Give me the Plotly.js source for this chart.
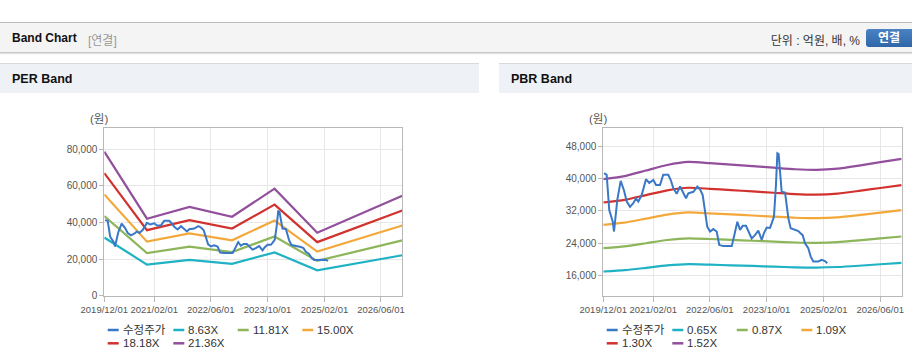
<!DOCTYPE html>
<html>
<head>
<meta charset="utf-8">
<script src="https://cdn.plot.ly/plotly-3.0.1.min.js"></script>
<style>
  html, body { margin:0; padding:0; }
  body { width:912px; height:364px; overflow:hidden; background:#fff; position:relative;
         font-family:"Liberation Sans", Arial, "Noto Sans CJK KR", sans-serif; }
  #topbar { position:absolute; left:0; top:22px; width:912px; height:29px; background:#f4f4f4;
            border-top:1px solid #bdbdbd; border-bottom:1px solid #c9c9c9; box-shadow:0 1px 1px #e2e2e2; }
  #topbar .ttl { position:absolute; left:12px; top:8px; font-size:12px; font-weight:bold; color:#111; }
  #topbar .sub { position:absolute; left:88px; top:8px; font-size:12px; color:#999; }
  #topbar .unit { position:absolute; right:52px; top:8px; font-size:12px; color:#333; }
  #topbar .btn { position:absolute; left:866px; top:6px; width:52px; height:18px; border-radius:3px;
                 background:linear-gradient(#4a82c4,#2f66a8); color:#fff; font-size:12px; font-weight:bold;
                 line-height:18px; text-indent:12px; }
  .phead { position:absolute; top:63px; height:29px; background:#eef1f6; border-top:1px solid #d9d9d9; }
  .phead span { position:absolute; left:12px; top:8px; font-size:12.5px; font-weight:bold; color:#111; }
  #chart { position:absolute; left:0; top:0; width:912px; height:364px; }
</style>
</head>
<body>
<div id="topbar">
  <div class="ttl">Band Chart</div>
  <div class="sub">[연결]</div>
  <div class="unit">단위 : 억원, 배, %</div>
  <div class="btn">연결</div>
</div>
<div class="phead" style="left:0;width:479px;"><span>PER Band</span></div>
<div class="phead" style="left:499px;width:413px;"><span>PBR Band</span></div>
<div id="chart"></div>
<script>
// ---------------- data ----------------
const priceName = '수정주가';
const priceDates = ['2019-12-07','2019-12-30','2020-01-21','2020-02-20','2020-03-02','2020-03-10','2020-03-30','2020-04-28','2020-05-26','2020-06-19','2020-07-17','2020-08-14','2020-09-06','2020-09-26','2020-10-25','2020-12-01','2020-12-29','2021-02-02','2021-02-25','2021-03-31','2021-04-28','2021-06-10','2021-07-01','2021-07-23','2021-08-21','2021-09-19','2021-10-12','2021-11-09','2021-11-29','2022-01-11','2022-02-14','2022-03-09','2022-04-01','2022-04-21','2022-05-10','2022-06-03','2022-07-01','2022-07-30','2022-08-21','2022-09-25','2022-12-06','2022-12-25','2023-01-23','2023-02-15','2023-03-10','2023-04-07','2023-05-26','2023-06-23','2023-07-22','2023-08-20','2023-09-08','2023-10-02','2023-10-30','2023-11-13','2023-12-03','2023-12-20','2024-01-01','2024-01-12','2024-01-24','2024-02-07','2024-03-07','2024-03-21','2024-04-04','2024-04-24','2024-05-31','2024-06-29','2024-07-13','2024-08-05','2024-08-25','2024-09-22','2024-10-13','2024-11-04','2024-12-17','2025-01-15','2025-02-12','2025-03-04'];
const priceValues = [41300,40900,32200,29300,26900,29700,34700,39400,37100,34300,33000,33900,35100,34300,35900,39800,38900,39600,38400,38400,40900,40900,39600,37600,36200,38000,36700,35100,36300,36700,38000,37300,35900,32200,28100,26900,27500,26900,23600,23300,23300,25600,29300,27300,28300,28300,25200,26000,27100,24800,26500,27900,27800,28900,30600,38400,46200,46000,40400,36700,36500,33000,30200,27700,27200,27000,26600,26000,24000,22800,20700,19500,19500,19900,19600,19050];

const perNames = ['8.63X','11.81X','15.00X','18.18X','21.36X'];
const perDates = ['2019-12-01','2020-12-01','2021-12-01','2022-12-01','2023-12-01','2024-12-01','2026-12-01'];
const per863  = [31800,17000,19590,17430,23650,13890,22090];
const per1181 = [43520,23270,26810,23860,32360,19010,30230];
const per1500 = [55280,29550,34050,30300,41100,24150,38400];
const per1818 = [66990,35810,41270,36720,49810,29270,46540];
const per2136 = [78710,42080,48490,43150,58530,34390,54680];

const pbrNames = ['0.65X','0.87X','1.09X','1.30X','1.52X'];
const pbrDates = ['2019-12-01','2020-06-01','2020-12-01','2021-06-01','2021-12-01','2022-06-01','2022-12-01','2023-06-01','2023-12-01','2024-06-01','2024-12-01','2025-06-01','2025-12-01','2026-06-01','2026-12-01'];
const pbr065 = [17030,17360,17940,18530,18850,18720,18560,18400,18230,18070,18010,18140,18460,18820,19180];
const pbr087 = [22790,23230,24010,24800,25230,25060,24840,24620,24400,24190,24100,24270,24710,25190,25670];
const pbr109 = [28560,29100,30080,31070,31610,31390,31120,30850,30570,30300,30190,30410,30960,31560,32160];
const pbr130 = [34060,34710,35880,37050,37700,37440,37120,36790,36470,36140,36010,36270,36920,37640,38350];
const pbr152 = [39820,40580,41950,43320,44080,43780,43400,43020,42640,42260,42100,42410,43170,44000,44840];

const xTickVals = ['2019-12-01','2021-02-01','2022-06-01','2023-10-01','2025-02-01','2026-06-01'];
const xTickText = ['2019/12/01','2021/02/01','2022/06/01','2023/10/01','2025/02/01','2026/06/01'];

// ---------------- styles ----------------
const priceColor = '#3a78c7';
const bandColors = ['#1fb2c5','#8db55a','#f3a83b','#d2322e','#924f9b'];
const FONT = '"Liberation Sans", Arial, "Noto Sans CJK KR", sans-serif';
const W = 912, H = 364;
const px = x => x / W, py = y => (H - y) / H;

const perBands = [per863, per1181, per1500, per1818, per2136];
const pbrBands = [pbr065, pbr087, pbr109, pbr130, pbr152];

const traces = [];
perBands.forEach((vals, i) => traces.push({
  type:'scatter', mode:'lines', x:perDates, y:vals, name:perNames[i],
  line:{color:bandColors[i], width:2.2}, xaxis:'x', yaxis:'y', showlegend:false, hoverinfo:'skip'
}));
traces.push({type:'scatter', mode:'lines', x:priceDates, y:priceValues, name:priceName,
  line:{color:priceColor, width:2}, xaxis:'x', yaxis:'y', showlegend:false, hoverinfo:'skip'});
pbrBands.forEach((vals, i) => traces.push({
  type:'scatter', mode:'lines', x:pbrDates, y:vals, name:pbrNames[i],
  line:{color:bandColors[i], width:2.2, shape:'spline', smoothing:0.6}, xaxis:'x2', yaxis:'y2', showlegend:false, hoverinfo:'skip'
}));
traces.push({type:'scatter', mode:'lines', x:priceDates, y:priceValues, name:priceName,
  line:{color:priceColor, width:2}, xaxis:'x2', yaxis:'y2', showlegend:false, hoverinfo:'skip'});

function xAxis(domain, anchor) {
  return {type:'date', domain:domain, anchor:anchor, range:['2019-12-01','2026-12-01'],
    tickmode:'array', tickvals:xTickVals, ticktext:xTickText, tickangle:0,
    showgrid:true, gridcolor:'#e7e7e7', gridwidth:1, zeroline:false,
    showline:true, linecolor:'#b8b8b8', linewidth:1, mirror:true,
    ticks:'outside', ticklen:5, tickcolor:'#b8b8b8',
    tickfont:{family:FONT, size:9.5, color:'#555'}, fixedrange:true, automargin:false};
}
function yAxis(domain, anchor, range, dtick) {
  return {domain:domain, anchor:anchor, range:range, tick0:0, dtick:dtick, tickformat:',d',
    showgrid:true, gridcolor:'#e7e7e7', gridwidth:1, zeroline:false,
    showline:true, linecolor:'#b8b8b8', linewidth:1, mirror:true,
    ticks:'outside', ticklen:4, tickcolor:'#b8b8b8',
    tickfont:{family:FONT, size:10, color:'#555'}, fixedrange:true, automargin:false};
}

const yDom = [py(295.7), py(128.3)];
const layout = {
  width:W, height:H, margin:{l:0,r:0,t:0,b:0},
  paper_bgcolor:'rgba(0,0,0,0)', plot_bgcolor:'#fff', showlegend:false,
  xaxis: xAxis([px(104.3), px(402.3)], 'y'),
  yaxis: yAxis(yDom, 'x', [0, 91500], 20000),
  xaxis2: xAxis([px(603.3), px(901.6)], 'y2'),
  yaxis2: yAxis(yDom, 'x2', [11065, 52367], 8000),
  annotations: [], shapes: []
};

// axis unit labels
[[99, '(원)'], [598, '(원)']].forEach(([x, t]) => layout.annotations.push({
  xref:'paper', yref:'paper', x:px(x), y:py(118.5), text:t, showarrow:false,
  xanchor:'center', yanchor:'middle', font:{family:FONT, size:11.5, color:'#555'}
}));

// custom legends
const colOff = [0, 65.6, 130, 194.6];
function addLegend(left, names) {
  const items = [{name:priceName, color:priceColor}].concat(names.map((n,i)=>({name:n, color:bandColors[i]})));
  items.forEach((it, k) => {
    const row = Math.floor(k / 4), col = k % 4;
    const x0 = left + 107.7 + colOff[col];
    const y = 330 + row * 13.3;
    layout.shapes.push({type:'line', xref:'paper', yref:'paper', x0:px(x0), x1:px(x0+11), y0:py(y), y1:py(y),
      line:{color:it.color, width:2.5}});
    layout.annotations.push({xref:'paper', yref:'paper', x:px(x0+13), y:py(y), text:it.name, showarrow:false,
      xanchor:'left', yanchor:'middle', font:{family:FONT, size:11.5, color:'#333'}});
  });
}
addLegend(0, perNames);
addLegend(499, pbrNames);

Plotly.newPlot('chart', traces, layout, {staticPlot:true, displayModeBar:false});
</script>
</body>
</html>
